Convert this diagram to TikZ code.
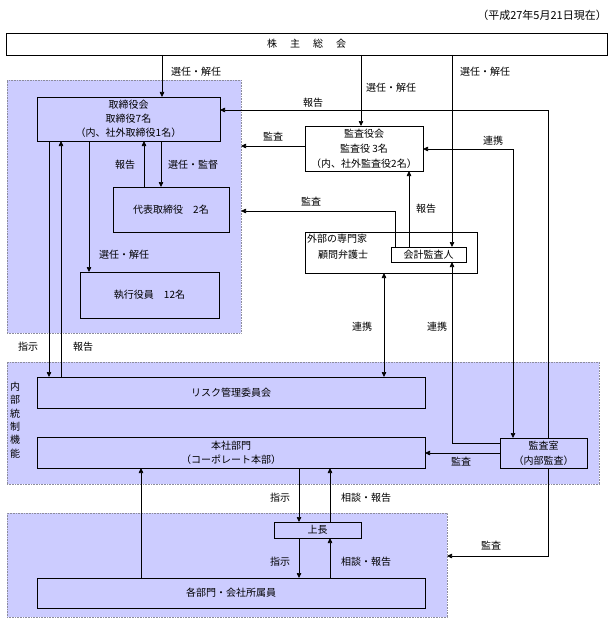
\documentclass[tikz,border=0pt]{standalone}
\usepackage{fontspec}
\setmainfont{Noto Sans CJK JP}
\usetikzlibrary{arrows.meta}
\definecolor{areablue}{HTML}{CCCCFF}
\definecolor{areaedge}{HTML}{8C8C9C}
\begin{document}
\begin{tikzpicture}[x=1pt,y=-1pt,
  font=\fontsize{10}{12}\selectfont,
  area/.style={draw=areaedge, densely dotted, fill=areablue, line width=0.6pt, inner sep=0pt, outer sep=0pt},
  box/.style={draw=black, solid, line width=0.9pt, inner sep=0pt, outer sep=0pt, align=center},
  bbox/.style={box, fill=areablue},
  wbox/.style={box, fill=white},
  conn/.style={line width=0.7pt, draw=black},
  arr/.style={conn, -{Triangle[length=5pt,width=4.5pt]}},
  darr/.style={conn, {Triangle[length=5pt,width=4.5pt]}-{Triangle[length=5pt,width=4.5pt]}},
  lbl/.style={inner sep=0pt}]
\useasboundingbox (0,0) rectangle (613,623);

% areas
\node[area, minimum width=234, minimum height=253] (ua) at (124,206.5) {};
\node[area, minimum width=592, minimum height=122] (ma) at (303,423) {};
\node[area, minimum width=440, minimum height=104] (la) at (227,565) {};

% date
\node[lbl, anchor=east, font=\fontsize{11}{13}\selectfont] (date) at (607,15) {（平成27年5月21日現在）};

% boxes
\node[wbox, minimum width=601, minimum height=22] (kabu) at (306.5,44) {株\hspace{1.3em}主\hspace{1.3em}総\hspace{1.3em}会};
\node[bbox, minimum width=183, minimum height=44, font=\fontsize{10}{14}\selectfont] (tori) at (128.5,119) {取締役会\\取締役7名\\（内、社外取締役1名）};
\node[bbox, minimum width=116, minimum height=45] (dai) at (171,209.5) {代表取締役　2名};
\node[bbox, minimum width=139, minimum height=46] (shik) at (149.5,295) {執行役員　12名};
\node[wbox, minimum width=118, minimum height=45, font=\fontsize{10}{15}\selectfont] (kansa) at (364,148.5) {監査役会\\監査役 3名\\（内、社外監査役2名）};
\node[wbox, minimum width=172, minimum height=41] (gaibu) at (391,252.5) {};
\node[lbl, anchor=west] (gaibu1) at (307,239) {外部の専門家};
\node[lbl, anchor=west] (gaibu2) at (318,255) {顧問弁護士};
\node[wbox, minimum width=75, minimum height=15] (kaikei) at (428.5,254.5) {会計監査人};
\node[bbox, minimum width=388, minimum height=31] (risk) at (231,392.5) {リスク管理委員会};
\node[bbox, minimum width=388, minimum height=31, font=\fontsize{10}{14}\selectfont] (honsha) at (231,452.5) {本社部門\\（コーポレート本部）};
\node[bbox, minimum width=87, minimum height=30, font=\fontsize{10}{15}\selectfont] (kshitsu) at (543.5,453) {監査室\\（内部監査）};
\node[bbox, minimum width=87, minimum height=16] (jocho) at (317.5,530) {上長};
\node[bbox, minimum width=388, minimum height=30] (kakubu) at (231,593) {各部門・会社所属員};
\node[lbl, align=center, font=\fontsize{10}{13.3}\selectfont] (naibu) at (15,420) {内\\部\\統\\制\\機\\能};

% helper coordinates
\foreach \v in {49,61,89,141,144,161,162,299,330,361,384,395,409,452,513,548}
  {\coordinate (x\v) at (\v,0);}
\foreach \v in {110,146,149,211,443,453,556}
  {\coordinate (y\v) at (0,\v);}

% connectors
\draw[arr] (kabu.south -| x162) -- (tori.north -| x162);
\draw[arr] (kabu.south -| x361) -- (kansa.north -| x361);
\draw[arr] (kabu.south -| x452) -- (kaikei.north -| x452);
\draw[arr] (kshitsu.north -| x548) |- (tori.east |- y110);
\draw[arr] (kansa.west |- y146) -- (ua.east |- y146);
\draw[arr] (kaikei.north -| x395) |- (ua.east |- y211);
\draw[arr] (kaikei.north -| x409) -- (kansa.south -| x409);
\draw[darr] (kshitsu.north -| x513) |- (kansa.east |- y149);
\draw[darr] (gaibu.south -| x384) -- (risk.north -| x384);
\draw[arr] (kshitsu.west |- y443) -| (kaikei.south -| x452);
\draw[arr] (tori.south -| x49) -- (risk.north -| x49);
\draw[arr] (risk.north -| x61) -- (tori.south -| x61);
\draw[arr] (dai.north -| x144) -- (tori.south -| x144);
\draw[arr] (tori.south -| x161) -- (dai.north -| x161);
\draw[arr] (tori.south -| x89) -- (shik.north -| x89);
\draw[arr] (kshitsu.west |- y453) -- (honsha.east |- y453);
\draw[arr] (kshitsu.south -| x548) |- (la.east |- y556);
\draw[arr] (kakubu.north -| x141) -- (honsha.south -| x141);
\draw[arr] (honsha.south -| x299) -- (jocho.north -| x299);
\draw[arr] (jocho.north -| x330) -- (honsha.south -| x330);
\draw[arr] (jocho.south -| x299) -- (kakubu.north -| x299);
\draw[arr] (kakubu.north -| x330) -- (jocho.south -| x330);

% labels
\node[lbl, anchor=west] (l1) at (171,72) {選任・解任};
\node[lbl, anchor=west] (l2) at (366,88) {選任・解任};
\node[lbl, anchor=west] (l3) at (460,72) {選任・解任};
\node[lbl] (l4) at (313,103) {報告};
\node[lbl] (l5) at (273,137) {監査};
\node[lbl] (l6) at (311,202) {監査};
\node[lbl] (l7) at (426,209) {報告};
\node[lbl] (l8) at (493,141) {連携};
\node[lbl] (l9) at (362,327) {連携};
\node[lbl] (l10) at (437,327) {連携};
\node[lbl] (l11) at (28,347) {指示};
\node[lbl] (l12) at (83,347) {報告};
\node[lbl] (l13) at (125,165) {報告};
\node[lbl, anchor=west] (l14) at (168,165) {選任・監督};
\node[lbl, anchor=west] (l15) at (99,255) {選任・解任};
\node[lbl] (l16) at (461,462) {監査};
\node[lbl] (l17) at (491,546) {監査};
\node[lbl] (l19) at (280,498) {指示};
\node[lbl, anchor=west] (l20) at (341,498) {相談・報告};
\node[lbl] (l21) at (280,562) {指示};
\node[lbl, anchor=west] (l22) at (341,562) {相談・報告};
\end{tikzpicture}
\end{document}
